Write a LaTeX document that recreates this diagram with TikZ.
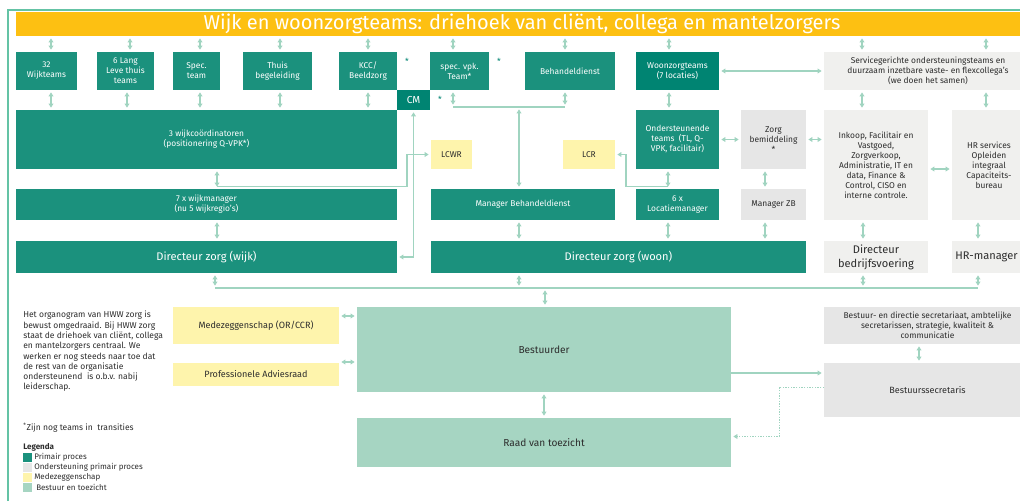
\documentclass[tikz,border=0pt]{standalone}
\usepackage{fontspec}
\setmainfont{Fira Sans}
\usetikzlibrary{arrows.meta,calc}
\definecolor{prim}{RGB}{27,145,125}
\definecolor{primd}{RGB}{0,132,114}
\definecolor{titlec}{RGB}{253,192,18}
\definecolor{mzc}{RGB}{254,244,172}
\definecolor{btc}{RGB}{166,213,194}
\definecolor{gA}{RGB}{230,230,230}
\definecolor{gB}{RGB}{240,240,238}
\definecolor{arc}{RGB}{160,212,192}
\definecolor{framec}{RGB}{100,195,165}
\definecolor{txt}{RGB}{45,45,45}
\newcommand\fsSm{\fontsize{6.3pt}{7.5pt}\selectfont}
\newcommand\fsLg{\fontsize{8.3pt}{10.3pt}\selectfont}
\newcommand\fsMd{\fontsize{6.8pt}{8pt}\selectfont}
\newcommand\fsBs{\fontsize{7.6pt}{9pt}\selectfont}
\newcommand\fsPa{\fontsize{6.4pt}{7.7pt}\selectfont}
\newcommand\fsLe{\fontsize{6pt}{7.5pt}\selectfont}
\newcommand\fsTi{\fontsize{15pt}{17pt}\selectfont}
\newcommand\fsCm{\fontsize{7.6pt}{9pt}\selectfont}
\newcommand\bx[7]{\node[#6, minimum width={(#4-#2)*0.75pt}, minimum height={(#5-#3)*0.75pt}] (#1) at ({(#2+#4)/2},{(#3+#5)/2}) {#7};}
\tikzset{
  box/.style={inner sep=0pt, outer sep=0pt, align=center, font=\fsSm},
  primbox/.style={box, fill=prim, text=white},
  primdbox/.style={box, fill=primd, text=white},
  gAbox/.style={box, fill=gA, text=txt},
  gBbox/.style={box, fill=gB, text=txt},
  mzbox/.style={box, fill=mzc, text=txt},
  btbox/.style={box, fill=btc, text=txt},
  tip/.tip={Triangle[length=3pt,width=3.6pt]},
  arr/.style={draw=arc, line width=0.8pt, tip-tip, shorten <=1.8pt, shorten >=1.8pt},
  arrone/.style={draw=arc, line width=0.8pt, -tip, shorten >=1.8pt},
  ln/.style={draw=arc, line width=0.8pt},
  star/.style={text=primd, font=\fsSm, inner sep=0pt},
  plain/.style={inner sep=0pt, text=txt, align=left},
}
\begin{document}
\begin{tikzpicture}[x=0.75pt,y=-0.75pt]
\clip (0,0) rectangle (1020,501);
\fill[white] (0,0) rectangle (1020,501);
\draw[framec, line width=0.8pt] (8,501) -- (8,10) -- (1020,10);
% title
\bx{title}{16}{12}{1028}{36}{box,fill=titlec,text=white,font=\fsTi}{Wijk en woonzorgteams: driehoek van cliënt, collega en mantelzorgers}
% row 1
\bx{w32}{16}{52}{77}{90}{primbox}{32\\Wijkteams}
\bx{llt}{97}{52}{154}{90}{primbox}{6 Lang\\Leve thuis\\teams}
\bx{spt}{173}{52}{220}{90}{primbox}{Spec.\\team}
\bx{thb}{243}{52}{312}{90}{primbox}{Thuis\\begeleiding}
\bx{kcc}{339}{52}{397}{90}{primbox}{KCC/\\Beeldzorg}
\bx{svpk}{430}{52}{489}{90}{primbox}{spec. vpk.\\Team*}
\bx{cm}{397}{90}{430}{110}{primdbox,font=\fsCm}{CM}
\bx{beh}{525}{52}{615}{90}{primbox}{Behandeldienst}
\bx{wz}{636}{52}{719}{90}{primdbox}{Woonzorgteams\\(7 locaties)}
\bx{srv}{824}{52}{1032}{90}{gBbox}{Servicegerichte ondersteuningsteams en\\duurzaam inzetbare vaste- en flexcollega's\\(we doen het samen)}
\node[star] (st1) at (407,61) {*};
\node[star] (st2) at (499,61) {*};
\node[star] (st3) at (440,99) {*};
% row 2
\bx{wc}{16}{110}{397}{169}{primbox}{3 wijkcoördinatoren\\(positionering Q-VPK*)}
\bx{lcwr}{431}{140}{472}{169}{mzbox}{LCWR}
\bx{lcr}{563}{140}{615}{169}{mzbox}{LCR}
\bx{ond}{636}{110}{719}{169}{primbox}{Ondersteunende\\teams~ (TL, Q-\\VPK, facilitair)}
\bx{zb}{741}{110}{806}{169}{gAbox}{Zorg\\bemiddeling\\*}
\bx{ink}{824}{110}{928}{220}{gBbox}{Inkoop, Facilitair en\\Vastgoed,\\Zorgverkoop,\\Administratie, IT en\\data, Finance \&\\Control, CISO en\\interne controle.}
\bx{hrs}{952}{110}{1026}{220}{gBbox}{HR services\\Opleiden\\integraal\\Capaciteits-\\bureau}
% row 3
\bx{wm}{16}{189}{397}{220}{primbox}{7 x wijkmanager\\(nu 5 wijkregio's)}
\bx{mbeh}{431}{189}{615}{220}{primbox}{Manager Behandeldienst}
\bx{loc}{636}{189}{719}{220}{primbox}{6 x\\Locatiemanager}
\bx{mzb}{741}{189}{806}{220}{gAbox}{Manager ZB}
% row 4
\bx{dw}{16}{241}{397}{273}{primbox,font=\fsLg}{Directeur zorg (wijk)}
\bx{dwo}{431}{241}{806}{273}{primbox,font=\fsLg}{Directeur zorg (woon)}
\bx{dbed}{824}{241}{928}{273}{gBbox,font=\fsLg}{Directeur\\bedrijfsvoering}
\bx{hrm}{952}{241}{1021}{273}{gBbox,font=\fsLg}{HR-manager}
\fill[gB] (1021,241) rectangle (1020.9,273);
% bottom
\bx{mede}{173}{307}{339}{344}{mzbox,font=\fsMd}{Medezeggenschap (OR/CCR)}
\bx{prof}{173}{363}{339}{386}{mzbox,font=\fsMd}{Professionele Adviesraad}
\bx{bst}{357}{307}{731}{392}{btbox,font=\fsBs}{Bestuurder}
\bx{raad}{357}{418}{731}{467}{btbox,font=\fsBs}{Raad van toezicht}
\bx{bds}{824}{307}{1031}{344}{gAbox}{Bestuur- en directie secretariaat, ambtelijke\\secretarissen, strategie, kwaliteit \&\\communicatie}
\bx{bsec}{824}{363}{1031}{417}{gAbox,font=\fsMd}{Bestuurssecretaris}
% text
\node[plain, anchor=north west, font=\fsPa] (para) at (23,311) {Het organogram van HWW zorg is\\bewust omgedraaid. Bij HWW zorg\\staat de driehoek van cliënt, collega\\en mantelzorgers centraal. We\\werken er nog steeds naar toe dat\\de rest van de organisatie\\ondersteunend~ is o.b.v. nabij\\leiderschap.};
\node[plain, anchor=west, font=\fsPa] (fn) at (23,428) {\textsuperscript{*}Zijn nog teams in~ transities};
\node[plain, anchor=west, font=\fsLe\bfseries] (leg) at (23,447) {Legenda};
\bx{lg1}{23}{453}{32}{462}{box,fill=prim}{}
\bx{lg2}{23}{463}{32}{472}{box,fill=gA}{}
\bx{lg3}{23}{473}{32}{482}{box,fill=mzc}{}
\bx{lg4}{23}{483}{32}{492}{box,fill=btc}{}
\node[plain, anchor=west, font=\fsLe] (lt1) at (34,457.5) {Primair proces};
\node[plain, anchor=west, font=\fsLe] (lt2) at (34,467.5) {Ondersteuning primair proces};
\node[plain, anchor=west, font=\fsLe] (lt3) at (34,477.5) {Medezeggenschap};
\node[plain, anchor=west, font=\fsLe] (lt4) at (36,487.5) {Bestuur en toezicht};
% connectors: title to row 1
\foreach \x/\n in {51/w32,130/llt,200/spt,280/thb,368/kcc,453/svpk,565/beh,669/wz,862/srv,986/srv}
  \draw[arr] (title.south -| \x,0) -- (\n.north -| \x,0);
% row 1 to wijkcoordinatoren
\foreach \x/\n in {51/w32,127/llt,200/spt,280/thb,368/kcc}
  \draw[arr] (\n.south -| \x,0) -- (wc.north -| \x,0);
% spec vpk / behandeldienst junction
\coordinate (jl) at (453,107);
\coordinate (jr) at (565,107);
\coordinate (jm) at (519,107);
\draw[ln] (jl) -- (jr);
\draw[arr] (svpk.south -| jl) -- (jl);
\draw[arr] (beh.south -| jr) -- (jr);
\draw[arr] (jm) -- (mbeh.north -| jm);
% woonzorg
\draw[arr] (wz.south -| 669,0) -- (ond.north -| 669,0);
\draw[arr] (wz.east) -- (wz.east -| srv.west);
\draw[arr] (srv.south -| 862,0) -- (ink.north -| 862,0);
\draw[arr] (srv.south -| 986,0) -- (hrs.north -| 986,0);
% CM
\draw[arr] (cm.south) |- (dw.east);
% wijk column
\draw[arr] (wc.south -| 217,0) -- (wm.north -| 217,0);
\coordinate (lw) at (217,186.5);
\draw[arrone] (lw) -| ($(lcwr.west)+(-24,0)$) -- (lcwr.west);
\draw[arr] (wm.south -| 217,0) -- (dw.north -| 217,0);
% woon column
\coordinate (lo) at (668,186.5);
\draw[arrone] (lo) -| ($(lcr.east)+(11,0)$) -- (lcr.east);
\draw[arr] (ond.south -| 668,0) -- (loc.north -| 668,0);
\draw[arr] (ond.east) -- (zb.west);
\draw[arr] (zb.east) -- (zb.east -| ink.west);
\draw[arr] ($(ink.east)+(0,4)$) coordinate (ih) -- (ih -| hrs.west);
\draw[arr] (zb.south -| 765,0) -- (mzb.north -| 765,0);
\draw[arr] (mbeh.south -| 519,0) -- (dwo.north -| 519,0);
\draw[arr] (loc.south -| 668,0) -- (dwo.north -| 668,0);
\draw[arr] (mzb.south -| 765,0) -- (dwo.north -| 765,0);
\draw[arr] (ink.south -| 863,0) -- (dbed.north -| 863,0);
\draw[arr] (hrs.south -| 978,0) -- (hrm.north -| 978,0);
% bottom bus
\coordinate (bl) at (215,288);
\coordinate (br) at (978,288);
\coordinate (b519) at (519,288);
\coordinate (b545) at (545,288);
\coordinate (b863) at (863,288);
\draw[ln] (bl) -- (br);
\draw[arr] (dw.south -| bl) -- (bl);
\draw[arr] (dwo.south -| b519) -- (b519);
\draw[arr] (dbed.south -| b863) -- (b863);
\draw[arr] (hrm.south -| br) -- (br);
\draw[arr] (b545) -- (bst.north -| b545);
% governance
\draw[arr] (bst.south) -- (raad.north);
\draw[arr] (mede.east |- 0,316) -- (bst.west |- 0,316);
\draw[arr] (prof.east |- 0,362) -- (bst.west |- 0,362);
\draw[arrone] (bst.east |- 0,373) -- (bsec.west |- 0,373);
\draw[arr] (bds.south -| 919,0) -- (bsec.north -| 919,0);
\draw[arrone, line width=0.5pt, dash pattern=on 1pt off 1pt] ($(bsec.west)+(0,-3)$) -| ($(raad.east)+(48,-6)$) -- ($(raad.east)+(0,-6)$);
\end{tikzpicture}
\end{document}
